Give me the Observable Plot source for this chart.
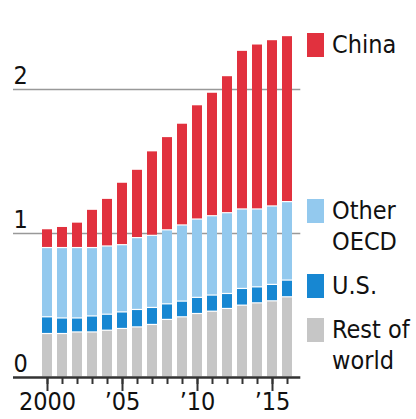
<!DOCTYPE html>
<html><head><meta charset="utf-8">
<script src="https://cdn.jsdelivr.net/npm/d3@7"></script>
<script src="https://cdn.jsdelivr.net/npm/@observablehq/plot@0.6"></script>
<style>
html,body{margin:0;padding:0;background:#fff;}
body{width:416px;height:419px;overflow:hidden;font-family:"DejaVu Sans Condensed","DejaVu Sans",sans-serif;}
#wrap{position:relative;width:416px;height:419px;}
.sw{position:absolute;left:307px;width:17px;height:24px;}
.lab{position:absolute;left:332px;font-size:25px;line-height:31px;color:#111;white-space:nowrap;}
</style></head><body><div id="wrap"></div>
<script>
const years = [2000,2001,2002,2003,2004,2005,2006,2007,2008,2009,2010,2011,2012,2013,2014,2015,2016];
const restOfWorld = [0.302,0.302,0.313,0.313,0.325,0.337,0.348,0.365,0.400,0.418,0.441,0.457,0.476,0.499,0.515,0.529,0.557];
const us          = [0.116,0.108,0.097,0.111,0.111,0.115,0.121,0.118,0.108,0.109,0.112,0.112,0.104,0.116,0.111,0.114,0.116];
const otherOECD   = [0.481,0.489,0.489,0.475,0.474,0.467,0.499,0.501,0.514,0.529,0.544,0.551,0.561,0.552,0.541,0.545,0.545];
const china       = [0.131,0.147,0.177,0.266,0.331,0.434,0.475,0.587,0.648,0.707,0.794,0.858,0.952,1.102,1.146,1.155,1.153];
const seriesNames = ["Rest of world","U.S.","Other OECD","China"];
const seriesColors = ["#c6c6c6","#1787d2","#93c9ee","#e1313e"];
const yTicks = [0,1,2];
const yLabels = ["0","1","2"];
const majorYears = [2000,2005,2010,2015];
const majorLabels = ["2000","\u201905","\u201910","\u201915"];
const legendItems = [
  {name:"China", lines:["China"]},
  {name:"Other OECD", lines:["Other","OECD"]},
  {name:"U.S.", lines:["U.S."]},
  {name:"Rest of world", lines:["Rest of","world"]}
];

const seriesArrays = [restOfWorld, us, otherOECD, china];
const rows = years.flatMap((yr, i) => seriesNames.map((s, j) => ({year: yr, series: s, value: seriesArrays[j][i]})));

const font = '"DejaVu Sans Condensed","DejaVu Sans",sans-serif';
const chart = Plot.plot({
  width: 416, height: 419,
  marginLeft: 32, marginRight: 113, marginTop: 17, marginBottom: 42,
  style: {fontFamily: font, fontSize: "25px", color: "#111", background: "#fff"},
  x: {type: "band", domain: years, padding: 0.33, axis: null},
  y: {domain: [0, 2.5], axis: null},
  color: {domain: seriesNames, range: seriesColors},
  marks: [
    Plot.ruleY([1, 2], {stroke: "#999", strokeWidth: 1.4, insetLeft: -19, insetRight: 2.7}),
    Plot.barY(rows, Plot.stackY({x: "year", y: "value", fill: "series", order: seriesNames, insetTop: 0.6, insetBottom: 0.6})),
    Plot.ruleY([0], {stroke: "#333", strokeWidth: 2.5, insetLeft: -19, insetRight: 2.7}),
    Plot.axisX({ticks: years, tickSize: 7, tickFormat: () => "", label: null, stroke: "#333", strokeWidth: 2}),
    Plot.axisX({ticks: majorYears, tickSize: 14, tickPadding: 1, label: null, stroke: "#333", strokeWidth: 2,
      tickFormat: d => majorLabels[majorYears.indexOf(d)], fill: "#111"}),
    Plot.axisY({ticks: yTicks, tickSize: 0, tickPadding: 0, label: null, textAnchor: "start", dx: -19, lineAnchor: "bottom", dy: -6, fill: "#111",
      tickFormat: d => yLabels[yTicks.indexOf(d)]})
  ]
});
const wrap = document.getElementById("wrap");
wrap.appendChild(chart);

// legend overlay
const legendTops = {"China": 33, "Other OECD": 199, "U.S.": 274, "Rest of world": 318};
legendItems.forEach(item => {
  const c = seriesColors[seriesNames.indexOf(item.name)];
  const top = legendTops[item.name];
  const sw = document.createElement("div");
  sw.className = "sw"; sw.style.top = top + "px"; sw.style.background = c;
  wrap.appendChild(sw);
  const lab = document.createElement("div");
  lab.className = "lab"; lab.style.top = (top - 4) + "px";
  lab.innerHTML = item.lines.join("<br>");
  wrap.appendChild(lab);
});
</script></body></html>
